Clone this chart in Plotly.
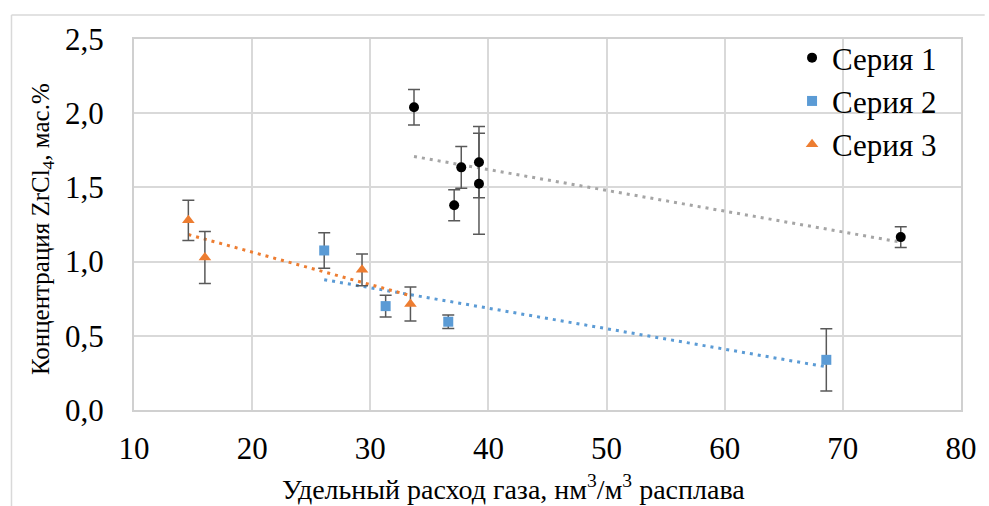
import numpy as np
import plotly.graph_objects as go

# Series 1
s1_x = [33.7, 37.1, 37.7, 39.2, 39.2, 74.9]
s1_y = [2.04, 1.38, 1.635, 1.67, 1.525, 1.165]
s1_err = [0.12, 0.105, 0.14, 0.24, 0.34, 0.07]
# Series 2
s2_x = [26.1, 31.3, 36.6, 68.6]
s2_y = [1.075, 0.70, 0.595, 0.338]
s2_err = [0.12, 0.073, 0.045, 0.21]
# Series 3
s3_x = [14.6, 16.0, 29.3, 33.4]
s3_y = [1.278, 1.028, 0.945, 0.714]
s3_err = [0.135, 0.175, 0.107, 0.115]

names = ["Серия 1", "Серия 2", "Серия 3"]
marker_colors = ["#000000", "#5b9bd5", "#ed7d31"]
trend_colors = ["#a5a5a5", "#5b9bd5", "#ed7d31"]
symbols = ["circle", "square", "triangle-up"]
sizes = [10, 10, 11]

FONT = "Liberation Serif, Times New Roman, serif"
TICK = 31
fig = go.Figure()

series = [(s1_x, s1_y, s1_err), (s2_x, s2_y, s2_err), (s3_x, s3_y, s3_err)]
for i, (xs, ys, es) in enumerate(series):
    xs_a = np.array(xs); ys_a = np.array(ys)
    k, b = np.polyfit(xs_a, ys_a, 1)
    tx = np.array([xs_a.min(), xs_a.max()])
    fig.add_trace(go.Scatter(x=tx, y=k * tx + b, mode="lines", showlegend=False,
                             line=dict(color=trend_colors[i], width=3, dash="3px,5px"),
                             hoverinfo="skip"))

for i, (xs, ys, es) in enumerate(series):
    fig.add_trace(go.Scatter(
        x=xs, y=ys, mode="markers", name=names[i], legendgroup=names[i],
        marker=dict(color=marker_colors[i], symbol=symbols[i], size=sizes[i], line=dict(width=0)),
        error_y=dict(type="data", array=es, visible=True, color="#595959", thickness=1.5, width=6),
    ))

px = lambda p: (p - 134) / (971 - 134)
py = lambda p: (410 - p) / (410 - 39)

fig.update_layout(
    width=989, height=506,
    margin=dict(l=134, r=18, t=39, b=96),
    paper_bgcolor="white", plot_bgcolor="white",
    separators=", ",
    font=dict(family=FONT, size=TICK, color="#000000"),
    legend=dict(x=px(800), xref="paper", y=py(31), yanchor="top", font=dict(family=FONT, size=TICK),
                tracegroupgap=0, bgcolor="rgba(0,0,0,0)", itemwidth=30),
    showlegend=True,
)

fig.update_xaxes(range=[10, 80], dtick=10, tick0=10, showgrid=True, gridcolor="#d9d9d9", gridwidth=2,
                 zeroline=False, showline=True, linecolor="#d0d0d0", linewidth=2, mirror=True,
                 ticks="", ticklabelstandoff=10, tickfont=dict(family=FONT, size=TICK))
fig.update_yaxes(range=[0, 2.5], dtick=0.5, tick0=0, tickformat=".1f", showgrid=True, gridcolor="#d9d9d9",
                 gridwidth=2, zeroline=False, showline=True, linecolor="#d0d0d0", linewidth=2, mirror=True,
                 ticks="", ticklabelstandoff=22, tickfont=dict(family=FONT, size=TICK))

fig.add_annotation(text="Концентрация ZrCl<sub>4</sub>, мас.%", xref="paper", yref="paper",
                   x=px(41), y=py(229), textangle=-90,
                   showarrow=False, xanchor="center", yanchor="middle", font=dict(family=FONT, size=25))
fig.add_annotation(text="Удельный расход газа, нм<sup>3</sup>/м<sup>3</sup> расплава", xref="paper", yref="paper",
                   x=px(518), y=py(487),
                   showarrow=False, xanchor="center", yanchor="middle", font=dict(family=FONT, size=28))

# outer chart border (left and top)
fig.add_shape(type="line", xref="paper", yref="paper", x0=px(10), x1=px(10), y0=py(15), y1=py(520),
              line=dict(color="#d9d9d9", width=1.5))
fig.add_shape(type="line", xref="paper", yref="paper", x0=px(10), x1=px(995), y0=py(15), y1=py(15),
              line=dict(color="#d9d9d9", width=1.5))

fig.write_html("out.html")
